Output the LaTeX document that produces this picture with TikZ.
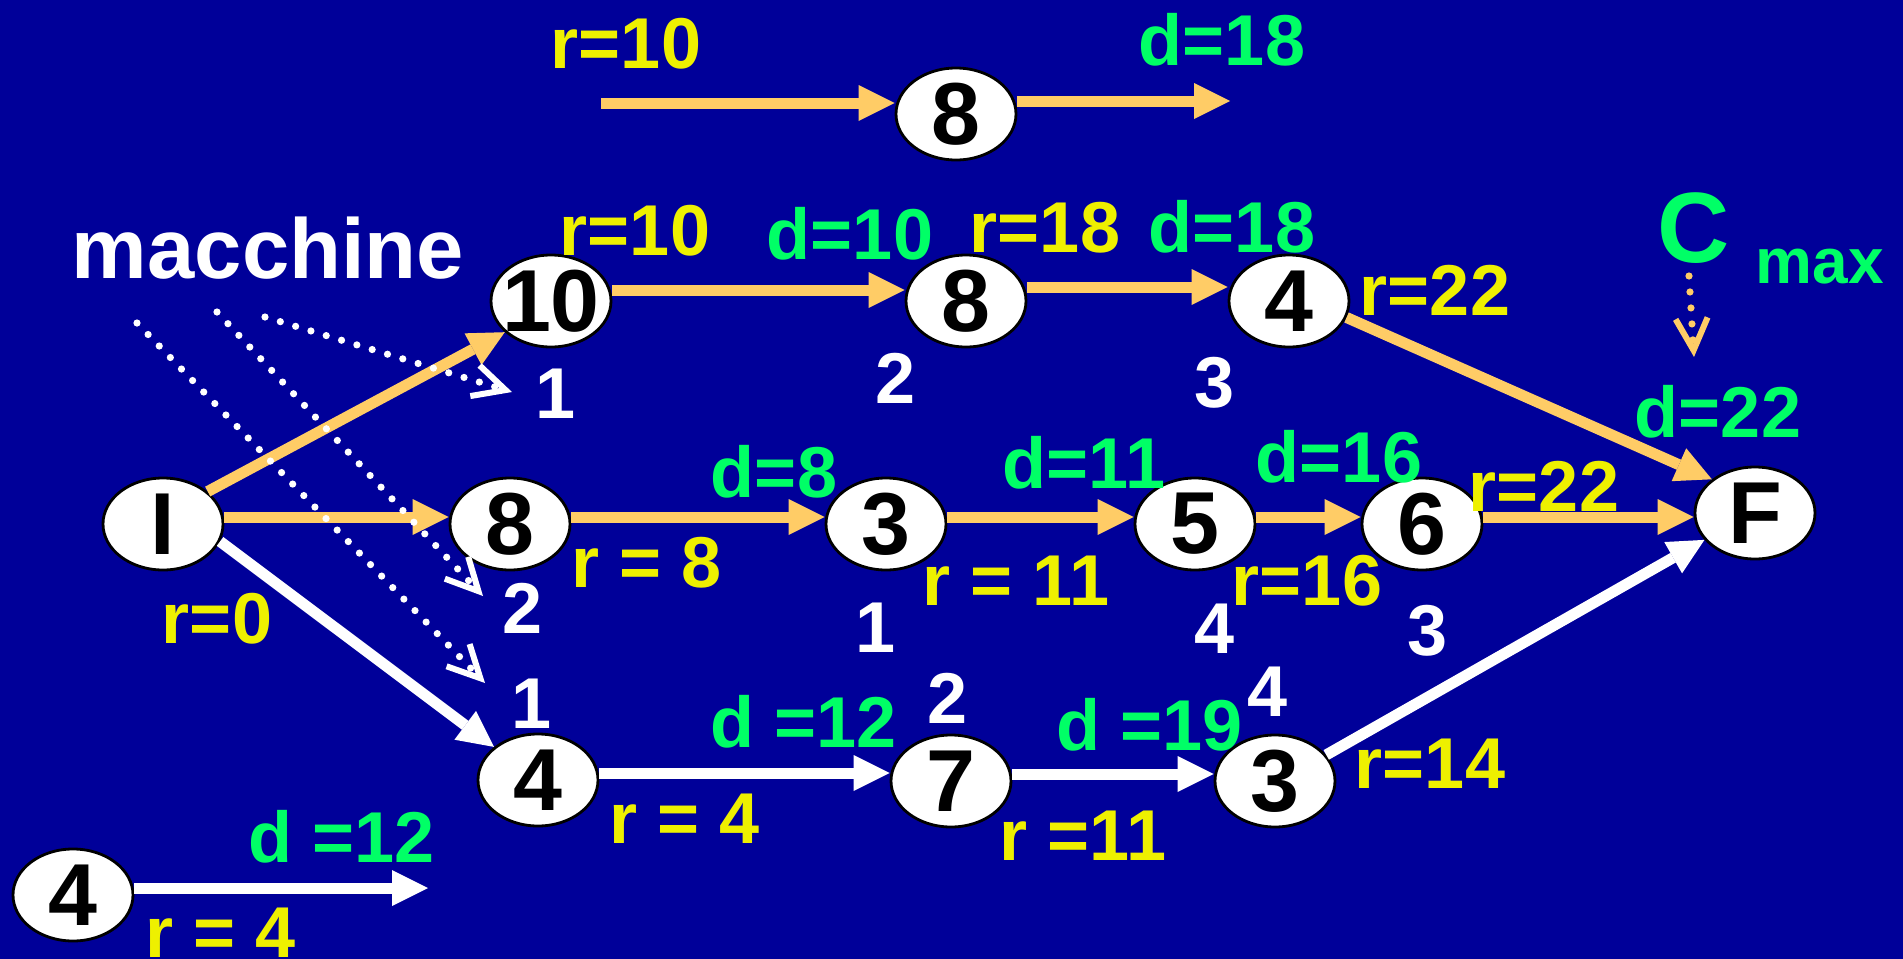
\documentclass[tikz,border=0pt]{standalone}
\usepackage{fontspec}
\setmainfont{Liberation Sans}
\usetikzlibrary{shapes.geometric,arrows.meta}
\definecolor{bg}{RGB}{0,0,153}
\definecolor{org}{RGB}{255,204,102}
\definecolor{yel}{RGB}{238,240,0}
\definecolor{grn}{RGB}{0,255,102}
\tikzset{
  job/.style={ellipse, draw=black, line width=1.4pt, fill=white, minimum width=60pt, minimum height=46pt, inner sep=0pt, font=\fontsize{44}{44}\selectfont\bfseries},
  lab/.style={anchor=base, inner sep=0pt, font=\fontsize{36}{36}\selectfont\bfseries},
  rl/.style={lab, text=yel},
  dl/.style={lab, text=grn},
  ml/.style={lab, text=white},
  oarr/.style={draw=org, line width=5.5pt, -{Triangle[length=18pt,width=18pt,line width=0pt]}},
  warr/.style={draw=white, line width=5.5pt, -{Triangle[length=18pt,width=18pt,line width=0pt]}},
  dotarr/.style={line width=3.6pt, line cap=round, dash pattern=on 0pt off 8pt, -{Straight Barb[length=16pt,width=16pt,line width=3pt]}},
}
\begin{document}
\begin{tikzpicture}[x=0.5pt,y=-0.5pt]
\useasboundingbox (0,0) rectangle (1903,959);
\fill[bg] (0,0) rectangle (1903,959);

% nodes
\node[job] (t8) at (956,114) {\makebox[0pt]{8}};
\node[job] (a10) at (551,301) {\makebox[0pt]{10}};
\node[job] (a8) at (966,301) {\makebox[0pt]{8}};
\node[job] (a4) at (1289,301) {\makebox[0pt]{4}};
\node[job] (I) at (163,524) {\makebox[0pt]{I}};
\node[job] (b8) at (510,524) {\makebox[0pt]{8}};
\node[job] (b3) at (886,524) {\makebox[0pt]{3}};
\node[job] (b5) at (1195,524) {\makebox[0pt]{5}};
\node[job] (b6) at (1422,524) {\makebox[0pt]{6}};
\node[job] (F) at (1755,513) {\makebox[0pt]{F}};
\node[job] (c4) at (538,780) {\makebox[0pt]{4}};
\node[job] (c7) at (951,781) {\makebox[0pt]{7}};
\node[job] (c3) at (1275,781) {\makebox[0pt]{3}};
\node[job] (d4) at (73,895) {\makebox[0pt]{4}};

\coordinate (ts) at (601,103);
\coordinate (te) at (1230,101);
\coordinate (de) at (428,888);

% horizontal arrows
\draw[oarr] (ts) -- (ts -| t8.west);
\draw[oarr] ([yshift=6.5pt]t8.east) -- ([yshift=6.5pt]t8.east -| te);
\draw[oarr] ([yshift=5.5pt]a10.east) -- ([yshift=5.5pt]a10.east -| a8.west);
\draw[oarr] ([yshift=7pt]a8.east) -- ([yshift=7pt]a8.east -| a4.west);
\draw[oarr] ([yshift=3.5pt]I.east) -- ([yshift=3.5pt]I.east -| b8.west);
\draw[oarr] ([yshift=3.5pt]b8.east) -- ([yshift=3.5pt]b8.east -| b3.west);
\draw[oarr] ([yshift=3.5pt]b3.east) -- ([yshift=3.5pt]b3.east -| b5.west);
\draw[oarr] ([yshift=3.5pt]b5.east) -- ([yshift=3.5pt]b5.east -| b6.west);
\draw[oarr] ([yshift=3.5pt]b6.east) -- ([yshift=3.5pt]b6.east -| F.west);
\draw[warr] ([yshift=3.5pt]c4.east) -- ([yshift=3.5pt]c4.east -| c7.west);
\draw[warr] ([yshift=3.5pt]c7.east) -- ([yshift=3.5pt]c7.east -| c3.west);
\draw[warr] ([yshift=3.5pt]d4.east) -- ([yshift=3.5pt]d4.east -| de);

% diagonal arrows
\draw[oarr] (I.36) -- (a10.214);
\draw[warr] (I.-17) -- (c4.143);
\draw[oarr] (a4.-16) -- (F.142);
\draw[warr] (c3.27) -- (F.-152);

% dotted machine arrows
\coordinate (pA) at (265,317); \coordinate (qA) at (512,392);
\coordinate (pB) at (217,312); \coordinate (qB) at (483,596);
\coordinate (pC) at (137,323); \coordinate (qC) at (485,683);
\coordinate (pD) at (1689,276); \coordinate (qD) at (1694,357);
\draw[dotarr, white] (pA) -- (qA);
\draw[dotarr, white] (pB) -- (qB);
\draw[dotarr, white] (pC) -- (qC);
\draw[dotarr, org] (pD) -- (qD);

% yellow labels
\node[rl] (r1) at (626,68) {r=10};
\node[rl] (r2) at (635,255) {r=10};
\node[rl] (r3) at (1045,252) {r=18};
\node[rl] (r4) at (1435,315) {r=22};
\node[rl] (r5) at (647,587) {r = 8};
\node[rl] (r6) at (217,643) {r=0};
\node[rl] (r7) at (1016,605) {r = 11};
\node[rl] (r8) at (1307,605) {r=16};
\node[rl] (r9) at (1544,511) {r=22};
\node[rl] (r10) at (685,843) {r = 4};
\node[rl] (r11) at (1083,860) {r =11};
\node[rl] (r12) at (1430,788) {r=14};
\node[rl] (r13) at (221,957) {r = 4};

% green labels
\node[dl] (g1) at (1222,65) {d=18};
\node[dl] (g2) at (850,259) {d=10};
\node[dl] (g3) at (1232,252) {d=18};
\node[dl] (g4) at (1718,437) {d=22};
\node[dl] (g5) at (774,497) {d=8};
\node[dl] (g6) at (1084,488) {d=11};
\node[dl] (g7) at (1339,482) {d=16};
\node[dl] (g8) at (804,747) {d =12};
\node[dl] (g9) at (1150,750) {d =19};
\node[dl] (g10) at (342,862) {d =12};
\node[dl, font=\fontsize{50}{50}\selectfont\bfseries] (cC) at (1694,262) {C};
\node[dl, font=\fontsize{32}{32}\selectfont\bfseries] (cmax) at (1820,283) {max};

% white labels
\node[ml, font=\fontsize{42.5}{42.5}\selectfont\bfseries] (mac) at (268,278) {macchine};
\node[ml] (w1) at (556,418) {1};
\node[ml] (w2) at (896,403) {2};
\node[ml] (w3) at (1215,407) {3};
\node[ml] (w4) at (523,633) {2};
\node[ml] (w5) at (532,728) {1};
\node[ml] (w6) at (876,652) {1};
\node[ml] (w7) at (1215,653) {4};
\node[ml] (w8) at (1428,655) {3};
\node[ml] (w9) at (948,723) {2};
\node[ml] (w10) at (1268,716) {4};
\end{tikzpicture}
\end{document}
